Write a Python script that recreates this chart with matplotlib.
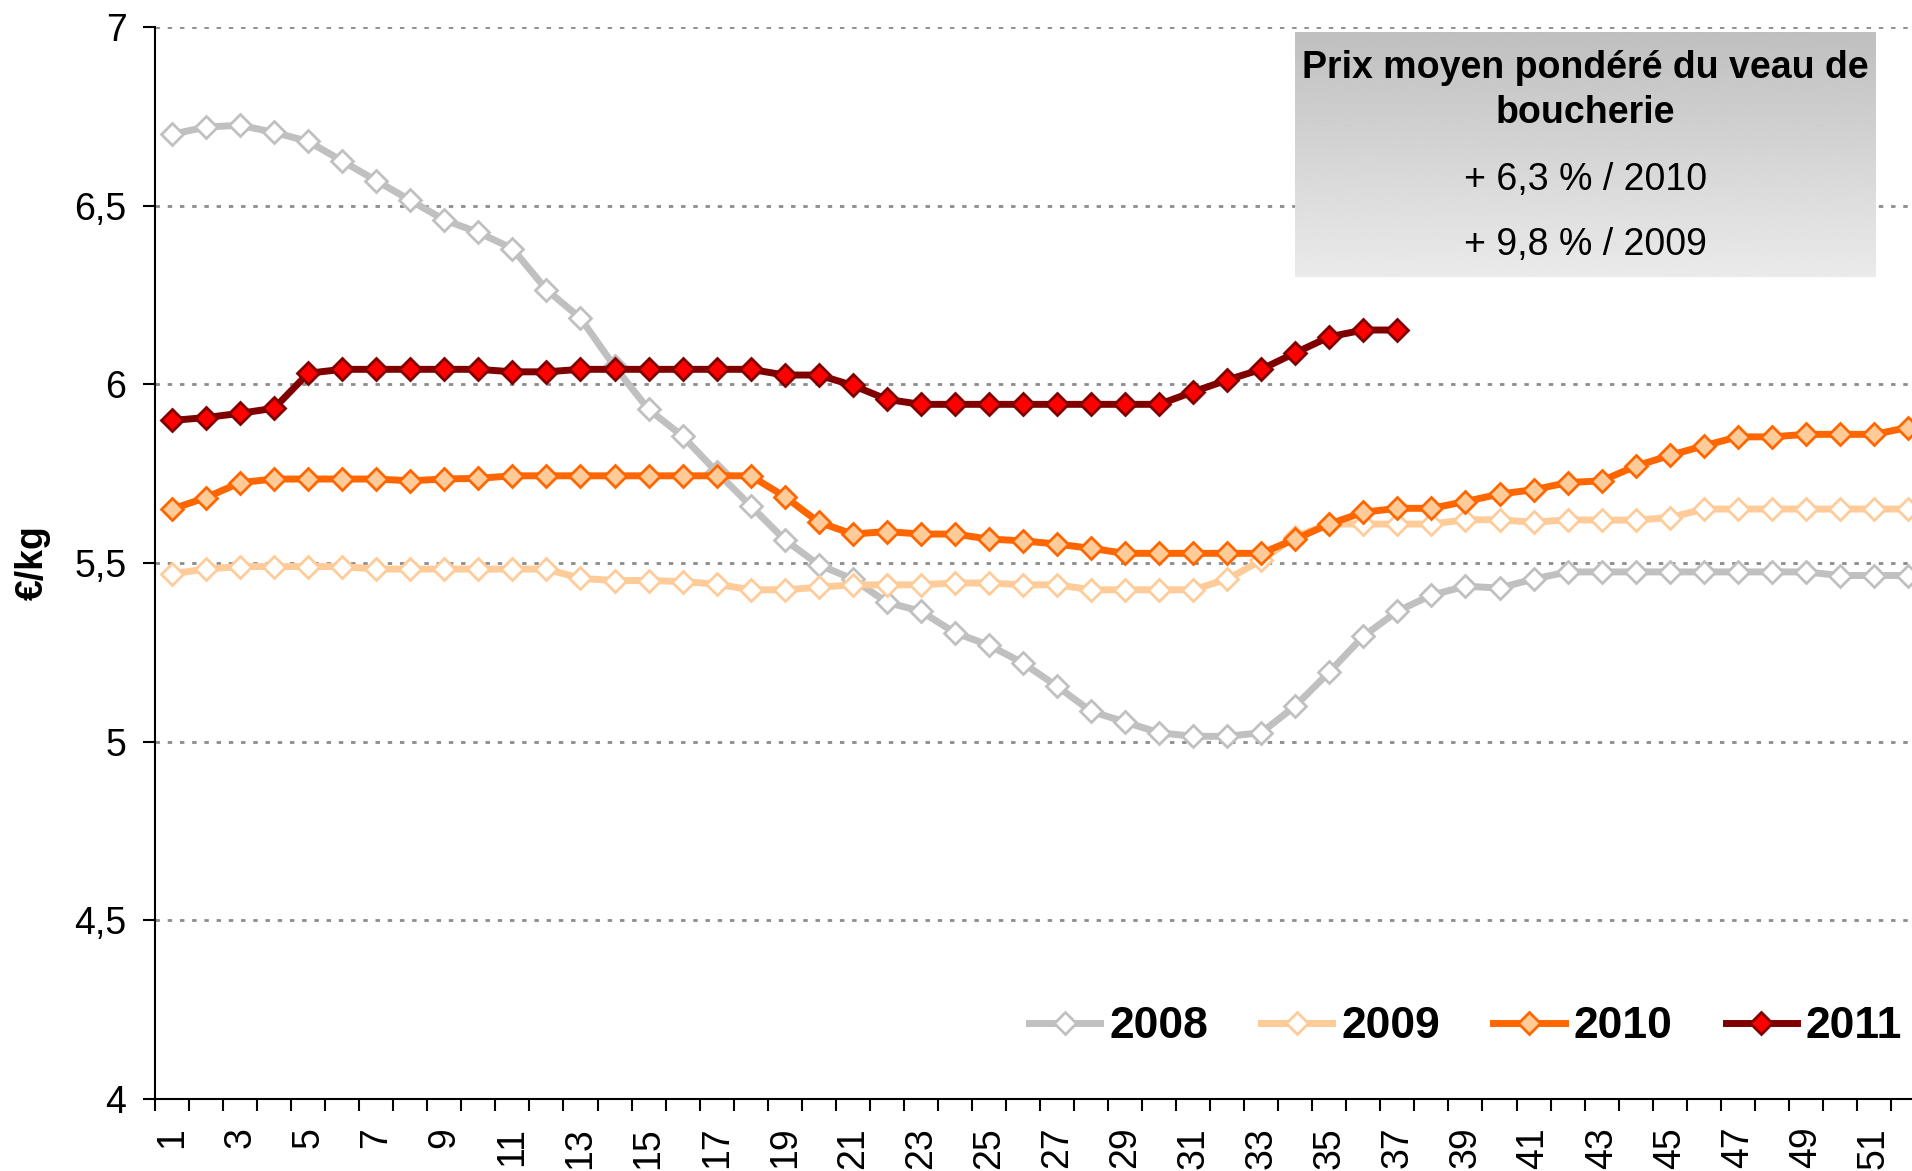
import numpy as np
import matplotlib
matplotlib.use('Agg')
import matplotlib.pyplot as plt

plt.rcParams['font.family'] = ['Liberation Sans', 'DejaVu Sans']

# semaines 1 à 52
weeks = list(range(1, 53))

# prix moyen pondéré (€/kg)
p2008 = [6.70, 6.72, 6.725, 6.705, 6.68, 6.625, 6.57, 6.515, 6.46, 6.425,
         6.38, 6.265, 6.185, 6.05, 5.93, 5.855, 5.755, 5.66, 5.565, 5.495,
         5.455, 5.39, 5.365, 5.305, 5.27, 5.22, 5.155, 5.085, 5.055, 5.025,
         5.015, 5.015, 5.025, 5.10, 5.195, 5.295, 5.365, 5.41, 5.435, 5.43,
         5.455, 5.475, 5.475, 5.475, 5.475, 5.475, 5.475, 5.475, 5.475, 5.465,
         5.465, 5.465]
p2009 = [5.47, 5.483, 5.49, 5.49, 5.49, 5.49, 5.483, 5.483, 5.483, 5.483,
         5.483, 5.483, 5.457, 5.451, 5.451, 5.448, 5.441, 5.425, 5.425, 5.432,
         5.439, 5.439, 5.439, 5.444, 5.444, 5.439, 5.439, 5.425, 5.425, 5.425,
         5.425, 5.455, 5.507, 5.574, 5.609, 5.609, 5.609, 5.609, 5.621, 5.621,
         5.614, 5.621, 5.62, 5.62, 5.627, 5.651, 5.651, 5.651, 5.651, 5.651,
         5.651, 5.651]
p2010 = [5.651, 5.683, 5.725, 5.735, 5.735, 5.735, 5.735, 5.73, 5.735, 5.737,
         5.744, 5.744, 5.744, 5.744, 5.744, 5.744, 5.744, 5.744, 5.686, 5.614,
         5.581, 5.588, 5.581, 5.581, 5.567, 5.562, 5.553, 5.541, 5.527, 5.527,
         5.527, 5.527, 5.527, 5.567, 5.609, 5.642, 5.653, 5.653, 5.672, 5.693,
         5.705, 5.725, 5.73, 5.771, 5.801, 5.828, 5.853, 5.853, 5.86, 5.86,
         5.86, 5.879]
p2011 = [5.899, 5.907, 5.919, 5.933, 6.031, 6.042, 6.042, 6.042, 6.042, 6.042,
         6.035, 6.035, 6.042, 6.042, 6.042, 6.042, 6.042, 6.042, 6.026, 6.026,
         5.997, 5.958, 5.944, 5.944, 5.944, 5.944, 5.944, 5.944, 5.944, 5.944,
         5.979, 6.012, 6.042, 6.088, 6.133, 6.152, 6.152]

yticks = [4, 4.5, 5, 5.5, 6, 6.5, 7]
ytick_labels = ['4', '4,5', '5', '5,5', '6', '6,5', '7']

fig = plt.figure(figsize=(19.12, 11.71), dpi=100)
ax = fig.add_axes([155 / 1912, 1 - 1099 / 1171, 1770 / 1912, 1072 / 1171])

lw, ms, mew = 5, 11, 2
ax.plot(weeks, p2008, color='#C0C0C0', lw=lw, marker='D', ms=ms, mew=mew,
        mfc='white', mec='#C0C0C0', label='2008')
ax.plot(weeks, p2009, color='#FFCC99', lw=lw, marker='D', ms=ms, mew=mew,
        mfc='white', mec='#FFCC99', label='2009')
ax.plot(weeks, p2010, color='#FF6600', lw=lw, marker='D', ms=ms, mew=mew,
        mfc='#FFCC99', mec='#FF6600', label='2010')
ax.plot(weeks[:len(p2011)], p2011, color='#800000', lw=lw, marker='D', ms=ms,
        mew=mew, mfc='#FF0000', mec='#800000', label='2011')

ax.set_xlim(0.5, 52.5)
ax.set_ylim(4, 7)

# axe des x : étiquettes sur les semaines impaires, graduations entre les semaines
ax.set_xticks(weeks[::2])
ax.set_xticklabels([str(w) for w in weeks[::2]], rotation=90, fontsize=27)
ax.set_xticks(np.arange(0.5, 53, 1), minor=True)
ax.tick_params(axis='x', which='major', length=0, pad=20)
ax.tick_params(axis='x', which='minor', length=8.6, width=1.5, direction='out')

ax.set_yticks(yticks)
ax.set_yticklabels(ytick_labels, fontsize=27)
ax.tick_params(axis='y', length=8.6, width=1.5, pad=12)

ax.yaxis.grid(True, color='#8C8C8C', linestyle=(0, (1.6, 2.8)), lw=2)
ax.set_axisbelow(True)
for side in ['top', 'right']:
    ax.spines[side].set_visible(False)
for side in ['left', 'bottom']:
    ax.spines[side].set_linewidth(1.5)

ax.set_ylabel('€/kg', fontsize=27, fontweight='bold')
ax.yaxis.set_label_coords(-0.059, 0.5)

ax.legend(loc='center right', bbox_to_anchor=(1902 / 1912, 1 - 1027 / 1171),
          bbox_transform=fig.transFigure, ncol=4, frameon=False,
          prop={'size': 32, 'weight': 'bold'}, handlelength=1.6,
          handletextpad=0.2, columnspacing=1.2, borderpad=0, borderaxespad=0)

# encadré en dégradé gris
box = fig.add_axes([1295 / 1912, 1 - 277 / 1171, 581 / 1912, 245 / 1171])
grad = np.linspace(0.75, 0.92, 256).reshape(-1, 1)
box.imshow(grad, cmap='gray', vmin=0, vmax=1, aspect='auto', extent=[0, 1, 0, 1])
box.set_axis_off()
box.text(0.5, 0.762, 'Prix moyen pondéré du veau de\nboucherie', ha='center',
         va='center', fontsize=27, fontweight='bold', linespacing=1.34)
box.text(0.5, 0.396, '+ 6,3 % / 2010', ha='center', va='center', fontsize=27)
box.text(0.5, 0.131, '+ 9,8 % / 2009', ha='center', va='center', fontsize=27)

fig.savefig('out.png', dpi=100)
